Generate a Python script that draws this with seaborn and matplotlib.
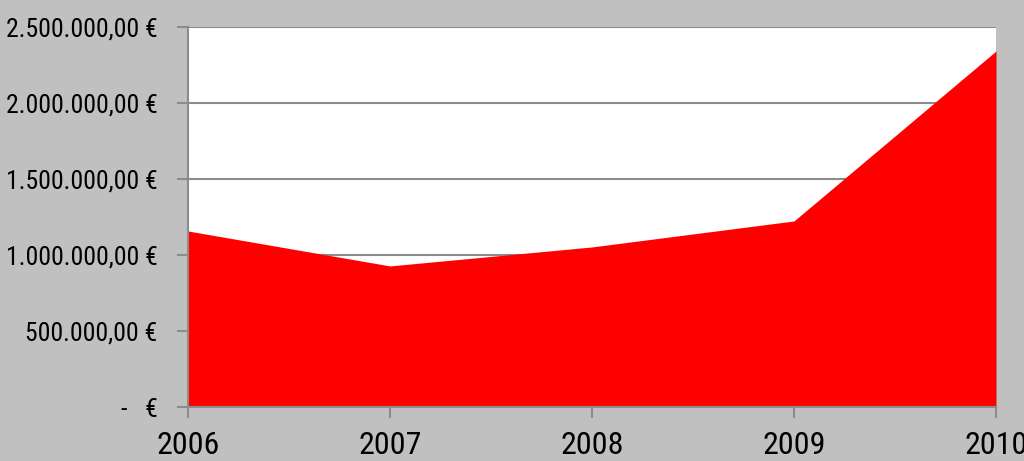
import matplotlib
matplotlib.use('Agg')
import matplotlib.pyplot as plt
import seaborn as sns
import pandas as pd
from matplotlib.ticker import FuncFormatter

years = [2006, 2007, 2008, 2009, 2010]
revenue = [1158000, 928000, 1053000, 1224000, 2342000]

df = pd.DataFrame({'Year': years, 'Revenue': revenue})

sns.set_style('white')
plt.rcParams['font.family'] = ['Roboto Condensed', 'Liberation Sans', 'DejaVu Sans']

fig = plt.figure(figsize=(10.24, 4.61), dpi=100, facecolor='#c0c0c0')
ax = fig.add_axes([188/1024, 54/461, 808/1024, 380/461])
ax.set_facecolor('white')

sns.lineplot(x='Year', y='Revenue', data=df, ax=ax, color='#ff0000', linewidth=0)
ax.fill_between(df['Year'], df['Revenue'], color='#ff0000', linewidth=0, zorder=2)

ax.set_xlim(2006, 2010)
ax.set_ylim(0, 2500000)
ax.set_yticks([0, 500000, 1000000, 1500000, 2000000, 2500000])
ax.set_xticks(years)

def euro(v, pos):
    if v == 0:
        return '-   €'
    s = f'{v:,.2f}'.replace(',', 'X').replace('.', ',').replace('X', '.')
    return s + ' €'

ax.yaxis.set_major_formatter(FuncFormatter(euro))
ax.grid(axis='y', color='#8c8c8c', linewidth=1.5, zorder=1)
ax.set_axisbelow(True)

for s in ['top', 'right']:
    ax.spines[s].set_visible(False)
for s in ['left', 'bottom']:
    ax.spines[s].set_color('#8c8c8c')
    ax.spines[s].set_linewidth(1.5)
    ax.spines[s].set_zorder(3)

ax.tick_params(axis='y', which='major', left=True, length=8, width=1.5, color='#8c8c8c',
               labelsize=18.5, pad=14, labelcolor='black')
ax.tick_params(axis='x', which='major', bottom=True, length=8, width=1.5, color='#8c8c8c',
               labelsize=23, pad=9, direction='out', labelcolor='black')
ax.set_xlabel('')
ax.set_ylabel('')

fig.savefig('out.png', dpi=100, facecolor=fig.get_facecolor())
